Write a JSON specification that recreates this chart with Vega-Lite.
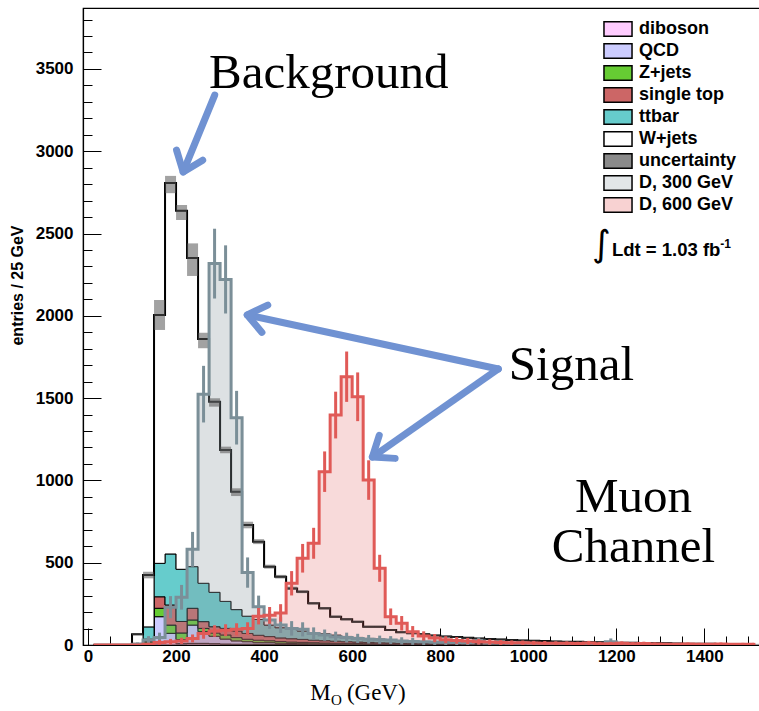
{
  "$schema": "https://vega.github.io/schema/vega-lite/v6.json",
  "width": 677,
  "height": 637,
  "autosize": {"type": "none"},
  "padding": {"left": 83, "top": 8, "right": 0, "bottom": 66},
  "background": "white",
  "config": {
    "font": "Liberation Sans",
    "view": {"stroke": "black", "strokeWidth": 1.2},
    "axis": {"grid": false, "labelColor": "black", "tickColor": "black", "domainColor": "black", "titleColor": "black"},
    "axisX": {"tickCount": 30, "tickSize": -17, "tickWidth": 1, "domainWidth": 1.2, "labelFont": "Liberation Sans", "labelFontWeight": "bold", "labelFontSize": 17, "labelPadding": 20, "labelFlush": false},
    "axisY": {"tickCount": 39, "tickSize": -18, "tickWidth": 1, "domainWidth": 1.2, "labelFont": "Liberation Sans", "labelFontWeight": "bold", "labelFontSize": 17, "labelPadding": 28, "labelFlush": false,
      "titleFont": "Liberation Sans", "titleFontWeight": "bold", "titleFontSize": 16, "titleX": -66, "titleY": 277, "titleAlign": "center", "titleBaseline": "middle"}
  },
  "datasets": {
    "procs": [
      {"key": "dib", "proc": "diboson", "ord": 1},
      {"key": "qcd", "proc": "QCD", "ord": 2},
      {"key": "zj", "proc": "Z+jets", "ord": 3},
      {"key": "st", "proc": "single top", "ord": 4},
      {"key": "tt", "proc": "ttbar", "ord": 5},
      {"key": "wj", "proc": "W+jets", "ord": 6}
    ],
    "h": [
      {"m": 12.5, "dib": 0, "qcd": 0, "zj": 0, "st": 0, "tt": 0, "wj": 0, "ulo": 0, "uhi": 0, "s3": 0, "l3": 0, "h3": 0, "s6": 0, "l6": 0, "h6": 0},
      {"m": 37.5, "dib": 0, "qcd": 0, "zj": 0, "st": 0, "tt": 0, "wj": 0, "ulo": 0, "uhi": 0, "s3": 0, "l3": 0, "h3": 0, "s6": 0, "l6": 0, "h6": 0},
      {"m": 62.5, "dib": 0, "qcd": 0, "zj": 0, "st": 0, "tt": 0, "wj": 0, "ulo": 0, "uhi": 0, "s3": 0, "l3": 0, "h3": 0, "s6": 0, "l6": 0, "h6": 0},
      {"m": 87.5, "dib": 0, "qcd": 0, "zj": 0, "st": 0, "tt": 0, "wj": 0, "ulo": 0, "uhi": 0, "s3": 0, "l3": 0, "h3": 0, "s6": 0, "l6": 0, "h6": 0},
      {"m": 112.5, "dib": 0, "qcd": 0, "zj": 2, "st": 3, "tt": 5, "wj": 55, "ulo": 59, "uhi": 71, "s3": 5, "l3": 0, "h3": 15, "s6": 0, "l6": 0, "h6": 0},
      {"m": 137.5, "dib": 2, "qcd": 10, "zj": 8, "st": 15, "tt": 75, "wj": 315, "ulo": 405, "uhi": 445, "s3": 30, "l3": 6, "h3": 54, "s6": 5, "l6": 0, "h6": 13},
      {"m": 162.5, "dib": 10, "qcd": 162, "zj": 51, "st": 70, "tt": 203, "wj": 1509, "ulo": 1914, "uhi": 2096, "s3": 45, "l3": 15, "h3": 75, "s6": 15, "l6": 0, "h6": 30},
      {"m": 187.5, "dib": 15, "qcd": 56, "zj": 50, "st": 122, "tt": 310, "wj": 2254, "ulo": 2745, "uhi": 2850, "s3": 230, "l3": 163, "h3": 297, "s6": 20, "l6": 3, "h6": 37},
      {"m": 212.5, "dib": 8, "qcd": 25, "zj": 40, "st": 70, "tt": 317, "wj": 2178, "ulo": 2582, "uhi": 2673, "s3": 290, "l3": 215, "h3": 365, "s6": 25, "l6": 6, "h6": 44},
      {"m": 237.5, "dib": 10, "qcd": 111, "zj": 31, "st": 71, "tt": 253, "wj": 1875, "ulo": 2242, "uhi": 2440, "s3": 581, "l3": 475, "h3": 687, "s6": 40, "l6": 16, "h6": 64},
      {"m": 262.5, "dib": 10, "qcd": 71, "zj": 20, "st": 41, "tt": 233, "wj": 1484, "ulo": 1803, "uhi": 1897, "s3": 1524, "l3": 1352, "h3": 1696, "s6": 70, "l6": 38, "h6": 102},
      {"m": 287.5, "dib": 8, "qcd": 45, "zj": 20, "st": 38, "tt": 209, "wj": 1158, "ulo": 1448, "uhi": 1499, "s3": 2317, "l3": 2105, "h3": 2529, "s6": 85, "l6": 50, "h6": 120},
      {"m": 312.5, "dib": 6, "qcd": 30, "zj": 25, "st": 40, "tt": 164, "wj": 920, "ulo": 1165, "uhi": 1205, "s3": 2221, "l3": 2014, "h3": 2428, "s6": 90, "l6": 54, "h6": 126},
      {"m": 337.5, "dib": 5, "qcd": 20, "zj": 20, "st": 40, "tt": 130, "wj": 716, "ulo": 905, "uhi": 952, "s3": 1381, "l3": 1218, "h3": 1544, "s6": 95, "l6": 58, "h6": 132},
      {"m": 362.5, "dib": 5, "qcd": 15, "zj": 15, "st": 35, "tt": 105, "wj": 554, "ulo": 709, "uhi": 749, "s3": 440, "l3": 348, "h3": 532, "s6": 100, "l6": 62, "h6": 138},
      {"m": 387.5, "dib": 4, "qcd": 10, "zj": 15, "st": 30, "tt": 96, "wj": 473, "ulo": 613, "uhi": 643, "s3": 233, "l3": 166, "h3": 300, "s6": 175, "l6": 125, "h6": 225},
      {"m": 412.5, "dib": 4, "qcd": 10, "zj": 12, "st": 25, "tt": 70, "wj": 355, "ulo": 464, "uhi": 488, "s3": 152, "l3": 98, "h3": 206, "s6": 180, "l6": 129, "h6": 231},
      {"m": 437.5, "dib": 3, "qcd": 8, "zj": 10, "st": 22, "tt": 62, "wj": 310, "ulo": 404, "uhi": 426, "s3": 121, "l3": 73, "h3": 169, "s6": 195, "l6": 142, "h6": 248},
      {"m": 462.5, "dib": 3, "qcd": 6, "zj": 9, "st": 20, "tt": 57, "wj": 249, "ulo": 334, "uhi": 354, "s3": 101, "l3": 57, "h3": 145, "s6": 375, "l6": 301, "h6": 449},
      {"m": 487.5, "dib": 3, "qcd": 5, "zj": 8, "st": 18, "tt": 51, "wj": 239, "ulo": 315, "uhi": 333, "s3": 95, "l3": 52, "h3": 138, "s6": 527, "l6": 440, "h6": 614},
      {"m": 512.5, "dib": 2, "qcd": 5, "zj": 7, "st": 15, "tt": 46, "wj": 178, "ulo": 245, "uhi": 261, "s3": 70, "l3": 33, "h3": 107, "s6": 618, "l6": 524, "h6": 712},
      {"m": 537.5, "dib": 2, "qcd": 4, "zj": 6, "st": 14, "tt": 42, "wj": 155, "ulo": 215, "uhi": 231, "s3": 60, "l3": 26, "h3": 94, "s6": 1053, "l6": 930, "h6": 1176},
      {"m": 562.5, "dib": 2, "qcd": 4, "zj": 5, "st": 12, "tt": 37, "wj": 112, "ulo": 165, "uhi": 179, "s3": 50, "l3": 19, "h3": 81, "s6": 1397, "l6": 1255, "h6": 1539},
      {"m": 587.5, "dib": 2, "qcd": 3, "zj": 5, "st": 10, "tt": 32, "wj": 104, "ulo": 149, "uhi": 163, "s3": 45, "l3": 15, "h3": 75, "s6": 1630, "l6": 1477, "h6": 1783},
      {"m": 612.5, "dib": 2, "qcd": 3, "zj": 4, "st": 9, "tt": 28, "wj": 95, "ulo": 135, "uhi": 147, "s3": 40, "l3": 12, "h3": 68, "s6": 1508, "l6": 1360, "h6": 1656},
      {"m": 637.5, "dib": 1, "qcd": 3, "zj": 4, "st": 8, "tt": 24, "wj": 71, "ulo": 105, "uhi": 117, "s3": 35, "l3": 9, "h3": 61, "s6": 1002, "l6": 882, "h6": 1122},
      {"m": 662.5, "dib": 1, "qcd": 2, "zj": 3, "st": 7, "tt": 23, "wj": 75, "ulo": 105, "uhi": 117, "s3": 32, "l3": 7, "h3": 57, "s6": 466, "l6": 384, "h6": 548},
      {"m": 687.5, "dib": 1, "qcd": 2, "zj": 3, "st": 6, "tt": 18, "wj": 61, "ulo": 86, "uhi": 96, "s3": 30, "l3": 6, "h3": 54, "s6": 172, "l6": 122, "h6": 222},
      {"m": 712.5, "dib": 1, "qcd": 2, "zj": 2, "st": 5, "tt": 16, "wj": 51, "ulo": 72, "uhi": 82, "s3": 25, "l3": 3, "h3": 47, "s6": 132, "l6": 88, "h6": 176},
      {"m": 737.5, "dib": 1, "qcd": 1, "zj": 2, "st": 4, "tt": 14, "wj": 49, "ulo": 66, "uhi": 76, "s3": 22, "l3": 1, "h3": 43, "s6": 81, "l6": 47, "h6": 115},
      {"m": 762.5, "dib": 1, "qcd": 1, "zj": 2, "st": 4, "tt": 11, "wj": 46, "ulo": 61, "uhi": 69, "s3": 20, "l3": 0, "h3": 40, "s6": 55, "l6": 27, "h6": 83},
      {"m": 787.5, "dib": 1, "qcd": 1, "zj": 1, "st": 3, "tt": 10, "wj": 42, "ulo": 54, "uhi": 62, "s3": 18, "l3": 0, "h3": 37, "s6": 42, "l6": 17, "h6": 67},
      {"m": 812.5, "dib": 0, "qcd": 1, "zj": 1, "st": 3, "tt": 9, "wj": 38, "ulo": 48, "uhi": 56, "s3": 16, "l3": 0, "h3": 34, "s6": 32, "l6": 11, "h6": 53},
      {"m": 837.5, "dib": 0, "qcd": 1, "zj": 1, "st": 2, "tt": 8, "wj": 36, "ulo": 44, "uhi": 52, "s3": 15, "l3": 0, "h3": 32, "s6": 28, "l6": 8, "h6": 48},
      {"m": 862.5, "dib": 0, "qcd": 1, "zj": 1, "st": 2, "tt": 6, "wj": 34, "ulo": 41, "uhi": 47, "s3": 14, "l3": 0, "h3": 30, "s6": 24, "l6": 5, "h6": 43},
      {"m": 887.5, "dib": 0, "qcd": 1, "zj": 1, "st": 2, "tt": 5, "wj": 31, "ulo": 37, "uhi": 43, "s3": 25, "l3": 3, "h3": 47, "s6": 20, "l6": 3, "h6": 37},
      {"m": 912.5, "dib": 0, "qcd": 0, "zj": 1, "st": 2, "tt": 5, "wj": 29, "ulo": 34, "uhi": 40, "s3": 12, "l3": 0, "h3": 27, "s6": 18, "l6": 2, "h6": 34},
      {"m": 937.5, "dib": 0, "qcd": 0, "zj": 1, "st": 1, "tt": 4, "wj": 28, "ulo": 31, "uhi": 37, "s3": 12, "l3": 0, "h3": 27, "s6": 15, "l6": 0, "h6": 30},
      {"m": 962.5, "dib": 0, "qcd": 0, "zj": 1, "st": 1, "tt": 4, "wj": 25, "ulo": 28, "uhi": 34, "s3": 10, "l3": 0, "h3": 24, "s6": 14, "l6": 0, "h6": 28},
      {"m": 987.5, "dib": 0, "qcd": 0, "zj": 0, "st": 1, "tt": 3, "wj": 24, "ulo": 26, "uhi": 30, "s3": 10, "l3": 0, "h3": 24, "s6": 13, "l6": 0, "h6": 27},
      {"m": 1012.5, "dib": 0, "qcd": 0, "zj": 0, "st": 1, "tt": 3, "wj": 22, "ulo": 24, "uhi": 28, "s3": 9, "l3": 0, "h3": 22, "s6": 12, "l6": 0, "h6": 25},
      {"m": 1037.5, "dib": 0, "qcd": 0, "zj": 0, "st": 1, "tt": 3, "wj": 20, "ulo": 22, "uhi": 26, "s3": 8, "l3": 0, "h3": 20, "s6": 11, "l6": 0, "h6": 24},
      {"m": 1062.5, "dib": 0, "qcd": 0, "zj": 0, "st": 1, "tt": 2, "wj": 19, "ulo": 20, "uhi": 24, "s3": 8, "l3": 0, "h3": 20, "s6": 10, "l6": 0, "h6": 22},
      {"m": 1087.5, "dib": 0, "qcd": 0, "zj": 0, "st": 1, "tt": 2, "wj": 17, "ulo": 18, "uhi": 22, "s3": 7, "l3": 0, "h3": 19, "s6": 10, "l6": 0, "h6": 22},
      {"m": 1112.5, "dib": 0, "qcd": 0, "zj": 0, "st": 1, "tt": 2, "wj": 16, "ulo": 17, "uhi": 21, "s3": 6, "l3": 0, "h3": 17, "s6": 9, "l6": 0, "h6": 20},
      {"m": 1137.5, "dib": 0, "qcd": 0, "zj": 0, "st": 0, "tt": 2, "wj": 15, "ulo": 15, "uhi": 19, "s3": 6, "l3": 0, "h3": 17, "s6": 12, "l6": 0, "h6": 25},
      {"m": 1162.5, "dib": 0, "qcd": 0, "zj": 0, "st": 0, "tt": 2, "wj": 14, "ulo": 14, "uhi": 18, "s3": 5, "l3": 0, "h3": 15, "s6": 8, "l6": 0, "h6": 19},
      {"m": 1187.5, "dib": 0, "qcd": 0, "zj": 0, "st": 0, "tt": 1, "wj": 14, "ulo": 13, "uhi": 17, "s3": 20, "l3": 0, "h3": 40, "s6": 8, "l6": 0, "h6": 19},
      {"m": 1212.5, "dib": 0, "qcd": 0, "zj": 0, "st": 0, "tt": 1, "wj": 13, "ulo": 12, "uhi": 16, "s3": 4, "l3": 0, "h3": 13, "s6": 10, "l6": 0, "h6": 22},
      {"m": 1237.5, "dib": 0, "qcd": 0, "zj": 0, "st": 0, "tt": 1, "wj": 12, "ulo": 11, "uhi": 15, "s3": 4, "l3": 0, "h3": 13, "s6": 7, "l6": 0, "h6": 17},
      {"m": 1262.5, "dib": 0, "qcd": 0, "zj": 0, "st": 0, "tt": 1, "wj": 11, "ulo": 10, "uhi": 14, "s3": 3, "l3": 0, "h3": 11, "s6": 9, "l6": 0, "h6": 20},
      {"m": 1287.5, "dib": 0, "qcd": 0, "zj": 0, "st": 0, "tt": 0, "wj": 11, "ulo": 9, "uhi": 13, "s3": 3, "l3": 0, "h3": 11, "s6": 6, "l6": 0, "h6": 15},
      {"m": 1312.5, "dib": 0, "qcd": 0, "zj": 0, "st": 0, "tt": 0, "wj": 10, "ulo": 8, "uhi": 12, "s3": 3, "l3": 0, "h3": 11, "s6": 5, "l6": 0, "h6": 13},
      {"m": 1337.5, "dib": 0, "qcd": 0, "zj": 0, "st": 0, "tt": 0, "wj": 9, "ulo": 7, "uhi": 11, "s3": 2, "l3": 0, "h3": 8, "s6": 5, "l6": 0, "h6": 13},
      {"m": 1362.5, "dib": 0, "qcd": 0, "zj": 0, "st": 0, "tt": 0, "wj": 8, "ulo": 6, "uhi": 10, "s3": 2, "l3": 0, "h3": 8, "s6": 6, "l6": 0, "h6": 15},
      {"m": 1387.5, "dib": 0, "qcd": 0, "zj": 0, "st": 0, "tt": 0, "wj": 8, "ulo": 6, "uhi": 10, "s3": 2, "l3": 0, "h3": 8, "s6": 5, "l6": 0, "h6": 13},
      {"m": 1412.5, "dib": 0, "qcd": 0, "zj": 0, "st": 0, "tt": 0, "wj": 7, "ulo": 5, "uhi": 9, "s3": 2, "l3": 0, "h3": 8, "s6": 4, "l6": 0, "h6": 12},
      {"m": 1437.5, "dib": 0, "qcd": 0, "zj": 0, "st": 0, "tt": 0, "wj": 6, "ulo": 4, "uhi": 8, "s3": 1, "l3": 0, "h3": 5, "s6": 6, "l6": 0, "h6": 15},
      {"m": 1462.5, "dib": 0, "qcd": 0, "zj": 0, "st": 0, "tt": 0, "wj": 6, "ulo": 4, "uhi": 8, "s3": 1, "l3": 0, "h3": 5, "s6": 4, "l6": 0, "h6": 12},
      {"m": 1487.5, "dib": 0, "qcd": 0, "zj": 0, "st": 0, "tt": 0, "wj": 5, "ulo": 3, "uhi": 7, "s3": 1, "l3": 0, "h3": 5, "s6": 5, "l6": 0, "h6": 13},
      {"m": 1512.5, "dib": 0, "qcd": 0, "zj": 0, "st": 0, "tt": 0, "wj": 5, "ulo": 3, "uhi": 7, "s3": 1, "l3": 0, "h3": 5, "s6": 5, "l6": 0, "h6": 13}
    ]
  },
  "data": {"name": "h"},
  "layer": [
    {
      "transform": [
        {"fold": ["dib", "qcd", "zj", "st", "tt", "wj"], "as": ["key", "n"]},
        {"lookup": "key", "from": {"data": {"name": "procs"}, "key": "key", "fields": ["proc", "ord"]}}
      ],
      "mark": {"type": "area", "interpolate": "step", "stroke": "black", "strokeWidth": 1, "clip": true},
      "encoding": {
        "x": {"field": "m", "type": "quantitative", "scale": {"domain": [0, 1515], "nice": false, "zero": false},
          "axis": {"orient": "bottom",
            "tickDash": {"condition": {"test": "datum.value % 200 !== 0", "value": [9, 40]}, "value": [40, 0]},
            "labelExpr": "datum.value % 200 === 0 ? format(datum.value, 'd') : ''",
            "title": null}},
        "y": {"field": "n", "type": "quantitative", "stack": "zero", "scale": {"domain": [0, 3870], "nice": false},
          "axis": {"orient": "left",
            "tickDash": {"condition": {"test": "datum.value % 500 !== 0", "value": [9, 40]}, "value": [40, 0]},
            "labelExpr": "datum.value % 500 === 0 ? format(datum.value, 'd') : ''",
            "title": "entries / 25 GeV"}},
        "color": {"field": "proc", "type": "nominal",
          "scale": {"domain": ["diboson", "QCD", "Z+jets", "single top", "ttbar", "W+jets", "uncertainty", "D, 300 GeV", "D, 600 GeV"],
                    "range": ["#ffccff", "#ccccff", "#66cc33", "#cc6666", "#66cccc", "#ffffff", "#8a8a8a", "#e2e6e8", "#f8d2d2"]},
          "legend": {"title": null, "orient": "none", "legendX": 526, "legendY": 12, "padding": 0,
            "symbolType": "M-1.87,-0.97H1.87V0.97H-1.87Z", "symbolSize": 225, "symbolStrokeWidth": 1.5, "symbolStrokeColor": "black", "symbolOpacity": 1,
            "labelFont": "Liberation Sans", "labelFontWeight": "bold", "labelFontSize": 18, "labelColor": "black", "labelOffset": 12, "labelLimit": 200, "rowPadding": 0}},
        "order": {"field": "ord", "type": "quantitative"}
      }
    },
    {
      "transform": [
        {"fold": ["dib", "qcd", "zj", "st", "tt", "wj"], "as": ["key", "n"]},
        {"aggregate": [{"op": "sum", "field": "n", "as": "tot"}], "groupby": ["m"]}
      ],
      "mark": {"type": "line", "interpolate": "step", "stroke": "black", "strokeWidth": 2, "clip": true},
      "encoding": {
        "x": {"field": "m", "type": "quantitative"},
        "y": {"field": "tot", "type": "quantitative"}
      }
    },
    {
      "mark": {"type": "area", "interpolate": "step", "fill": "#8d9ba2", "fillOpacity": 0.3, "clip": true},
      "encoding": {
        "x": {"field": "m", "type": "quantitative"},
        "y": {"field": "s3", "type": "quantitative", "stack": null}
      }
    },
    {
      "mark": {"type": "area", "interpolate": "step", "fill": "#e05555", "fillOpacity": 0.22, "clip": true},
      "encoding": {
        "x": {"field": "m", "type": "quantitative"},
        "y": {"field": "s6", "type": "quantitative", "stack": null}
      }
    },
    {
      "mark": {"type": "bar", "size": 11, "fill": "#555555", "opacity": 0.55, "clip": true},
      "encoding": {
        "x": {"field": "m", "type": "quantitative"},
        "y": {"field": "ulo", "type": "quantitative"},
        "y2": {"field": "uhi"}
      }
    },
    {
      "mark": {"type": "line", "interpolate": "step", "stroke": "#7b8f98", "strokeWidth": 3, "clip": true},
      "encoding": {
        "x": {"field": "m", "type": "quantitative"},
        "y": {"field": "s3", "type": "quantitative"}
      }
    },
    {
      "mark": {"type": "rule", "color": "#7b8f98", "strokeWidth": 3, "clip": true},
      "encoding": {
        "x": {"field": "m", "type": "quantitative"},
        "y": {"field": "l3", "type": "quantitative"},
        "y2": {"field": "h3"}
      }
    },
    {
      "mark": {"type": "line", "interpolate": "step", "stroke": "#e05a57", "strokeWidth": 3, "clip": true},
      "encoding": {
        "x": {"field": "m", "type": "quantitative"},
        "y": {"field": "s6", "type": "quantitative"}
      }
    },
    {
      "mark": {"type": "rule", "color": "#e05a57", "strokeWidth": 3, "clip": true},
      "encoding": {
        "x": {"field": "m", "type": "quantitative"},
        "y": {"field": "l6", "type": "quantitative"},
        "y2": {"field": "h6"}
      }
    },
    {
      "data": {"values": [{}]},
      "mark": {"type": "rule", "color": "#7092d2", "strokeWidth": 7, "strokeCap": "round"},
      "encoding": {"x": {"datum": 287.8, "type": "quantitative"}, "y": {"datum": 3341, "type": "quantitative"}, "x2": {"datum": 216.2}, "y2": {"datum": 2874}}
    },
    {
      "data": {"values": [{}]},
      "mark": {"type": "rule", "color": "#7092d2", "strokeWidth": 7, "strokeCap": "round"},
      "encoding": {"x": {"datum": 932, "type": "quantitative"}, "y": {"datum": 1677, "type": "quantitative"}, "x2": {"datum": 361.7}, "y2": {"datum": 2005}}
    },
    {
      "data": {"values": [{}]},
      "mark": {"type": "rule", "color": "#7092d2", "strokeWidth": 7, "strokeCap": "round"},
      "encoding": {"x": {"datum": 932, "type": "quantitative"}, "y": {"datum": 1677, "type": "quantitative"}, "x2": {"datum": 645.9}, "y2": {"datum": 1142}}
    },
    {
      "data": {"values": [{}]},
      "mark": {"type": "point", "shape": "M-0.7,0.9L0,0L0.7,0.9", "filled": false, "stroke": "#7092d2", "strokeWidth": 7, "strokeCap": "round", "strokeJoin": "round", "size": 1600, "angle": 201, "opacity": 1},
      "encoding": {"x": {"datum": 216.2, "type": "quantitative"}, "y": {"datum": 2874, "type": "quantitative"}}
    },
    {
      "data": {"values": [{}]},
      "mark": {"type": "point", "shape": "M-0.7,0.9L0,0L0.7,0.9", "filled": false, "stroke": "#7092d2", "strokeWidth": 7, "strokeCap": "round", "strokeJoin": "round", "size": 1600, "angle": 282, "opacity": 1},
      "encoding": {"x": {"datum": 361.7, "type": "quantitative"}, "y": {"datum": 2005, "type": "quantitative"}}
    },
    {
      "data": {"values": [{}]},
      "mark": {"type": "point", "shape": "M-0.7,0.9L0,0L0.7,0.9", "filled": false, "stroke": "#7092d2", "strokeWidth": 7, "strokeCap": "round", "strokeJoin": "round", "size": 1600, "angle": 235.5, "opacity": 1},
      "encoding": {"x": {"datum": 645.9, "type": "quantitative"}, "y": {"datum": 1142, "type": "quantitative"}}
    },
    {
      "data": {"values": [{"t": "Background", "x": 547, "y": 3384}, {"t": "Signal", "x": 1098, "y": 1610}, {"t": "Muon", "x": 1239, "y": 808}, {"t": "Channel", "x": 1239, "y": 504}]},
      "mark": {"type": "text", "font": "Liberation Serif", "fontSize": 49, "align": "center", "baseline": "alphabetic", "color": "black"},
      "encoding": {"x": {"field": "x", "type": "quantitative"}, "y": {"field": "y", "type": "quantitative"}, "text": {"field": "t"}}
    },
    {
      "data": {"values": [{}]},
      "mark": {"type": "text", "text": "∫", "font": "DejaVu Sans", "fontSize": 36, "align": "center", "baseline": "middle", "color": "black"},
      "encoding": {"x": {"datum": 1166, "type": "quantitative"}, "y": {"datum": 2430, "type": "quantitative"}}
    },
    {
      "data": {"values": [{}]},
      "mark": {"type": "text", "text": "Ldt = 1.03 fb", "font": "Liberation Sans", "fontWeight": "bold", "fontSize": 18.5, "align": "left", "baseline": "alphabetic", "color": "black"},
      "encoding": {"x": {"datum": 1190, "type": "quantitative"}, "y": {"datum": 2363, "type": "quantitative"}}
    },
    {
      "data": {"values": [{}]},
      "mark": {"type": "text", "text": "-1", "font": "Liberation Sans", "fontWeight": "bold", "fontSize": 12, "align": "left", "baseline": "alphabetic", "color": "black"},
      "encoding": {"x": {"datum": 1436, "type": "quantitative"}, "y": {"datum": 2410, "type": "quantitative"}}
    },
    {
      "data": {"values": [{}]},
      "mark": {"type": "text", "text": "M", "font": "Liberation Serif", "fontSize": 23, "align": "left", "baseline": "alphabetic", "color": "black"},
      "encoding": {"x": {"datum": 505, "type": "quantitative"}, "y": {"datum": -334, "type": "quantitative"}}
    },
    {
      "data": {"values": [{}]},
      "mark": {"type": "text", "text": "O", "font": "Liberation Serif", "fontSize": 15, "align": "left", "baseline": "alphabetic", "color": "black"},
      "encoding": {"x": {"datum": 552, "type": "quantitative"}, "y": {"datum": -365, "type": "quantitative"}}
    },
    {
      "data": {"values": [{}]},
      "mark": {"type": "text", "text": "(GeV)", "font": "Liberation Serif", "fontSize": 23, "align": "left", "baseline": "alphabetic", "color": "black"},
      "encoding": {"x": {"datum": 588, "type": "quantitative"}, "y": {"datum": -334, "type": "quantitative"}}
    }
  ]
}
